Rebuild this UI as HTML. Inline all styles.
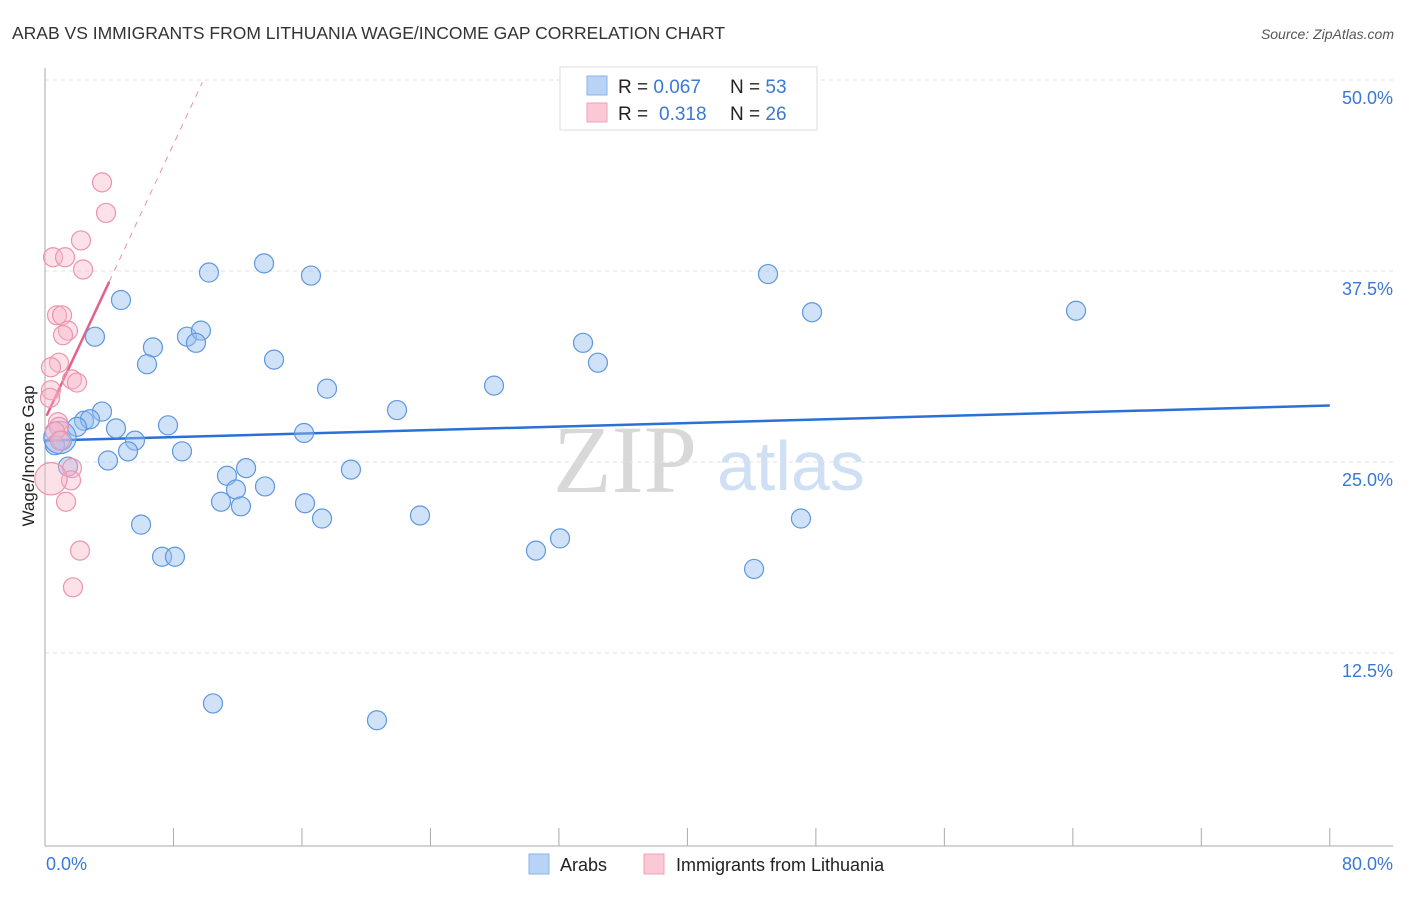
<!DOCTYPE html>
<html><head><meta charset="utf-8"><style>
body{margin:0;background:#fff;font-family:"Liberation Sans",sans-serif}
</style></head><body>
<svg width="1406" height="892" xmlns="http://www.w3.org/2000/svg" style="font-family:'Liberation Sans',sans-serif">
<text x="12" y="39" font-size="17.5" fill="#333">ARAB VS IMMIGRANTS FROM LITHUANIA WAGE/INCOME GAP CORRELATION CHART</text>
<text x="1394" y="39" font-size="14" fill="#555" font-style="italic" text-anchor="end">Source: ZipAtlas.com</text>
<g>
<text x="553" y="492" font-size="96" font-family="'Liberation Serif',serif" fill="#d8d8d8">ZIP</text>
<text x="717" y="490" font-size="70" fill="#cfe0f4">atlas</text>
</g>
<g id="grid"></g>
<line x1="45" y1="68" x2="45" y2="846" stroke="#aaa"/>
<line x1="45" y1="846" x2="1393" y2="846" stroke="#aaa"/>
<g id="xticks"></g>
<g id="trends"></g>
<g id="pts"></g>
<text x="46" y="870" font-size="18" fill="#3a78d8">0.0%</text>
<text x="1393" y="870" font-size="18" fill="#3a78d8" text-anchor="end">80.0%</text>
<text transform="translate(34,456) rotate(-90)" font-size="17" fill="#222" text-anchor="middle">Wage/Income Gap</text>
<g>
<rect x="560" y="67" width="257" height="63" fill="#fff" stroke="#ddd"/>
<rect x="587" y="76" width="20" height="19" fill="#b8d3f5" stroke="#8ab3ea"/>
<rect x="587" y="103" width="20" height="19" fill="#fbc8d6" stroke="#f0a0b8"/>
<text x="618" y="93" font-size="19" fill="#222">R = <tspan fill="#3a78d8">0.067</tspan><tspan x="730">N = </tspan><tspan fill="#3a78d8">53</tspan></text>
<text x="618" y="120" font-size="19" fill="#222">R = <tspan x="659" fill="#3a78d8">0.318</tspan><tspan x="730">N = </tspan><tspan fill="#3a78d8">26</tspan></text>
</g>
<g>
<rect x="529" y="854" width="20" height="20" fill="#b8d3f5" stroke="#8ab3ea"/>
<text x="560" y="871" font-size="18" fill="#222">Arabs</text></g>
<g>
<rect x="644" y="854" width="20" height="20" fill="#fbc8d6" stroke="#f0a0b8"/>
<text x="676" y="871" font-size="18" fill="#222">Immigrants from Lithuania</text></g>
</svg>
<script>
const yTicks=[12.5,25,37.5,50];
const yTickLabels=["12.5%","25.0%","37.5%","50.0%"];
const xTicks=[0,8,16,24,32,40,48,56,64,72,80];
const arabX=[4.73,3.11,6.72,6.35,8.84,9.71,9.40,10.21,13.64,16.56,14.26,17.56,21.92,27.96,33.50,34.43,45.02,47.76,64.20,3.55,2.43,2.80,4.42,5.60,5.17,1.99,1.06,0.62,3.92,1.43,7.66,8.53,11.33,12.52,11.89,13.70,10.96,12.20,16.13,16.19,17.25,19.05,23.35,5.98,7.29,8.09,30.57,32.07,44.15,47.07,10.46,20.67,0.93];
const arabY=[35.6,33.2,32.5,31.4,33.2,33.6,32.8,37.4,38.0,37.2,31.7,29.8,28.4,30.0,32.8,31.5,37.3,34.8,34.9,28.3,27.7,27.8,27.2,26.4,25.7,27.3,26.4,26.1,25.1,24.7,27.4,25.7,24.1,24.6,23.2,23.4,22.4,22.1,26.9,22.3,21.3,24.5,21.5,20.9,18.8,18.8,19.2,20.0,18.0,21.3,9.2,8.1,26.6];
const arabSize=[1,1,1,1,1,1,1,1,1,1,1,1,1,1,1,1,1,1,1,1,1,1,1,1,1,1,1,1,1,1,1,1,1,1,1,1,1,1,1,1,1,1,1,1,1,1,1,1,1,1,1,1,1.7];
const lithX=[3.55,3.80,2.24,0.50,1.25,2.37,0.75,1.06,1.43,1.12,0.87,0.37,1.68,1.99,0.37,0.31,0.81,0.87,1.68,1.62,0.37,1.31,2.18,1.74,0.62,0.93];
const lithY=[43.3,41.3,39.5,38.4,38.4,37.6,34.6,34.6,33.6,33.3,31.5,31.2,30.4,30.2,29.7,29.2,27.6,27.3,24.6,23.8,23.9,22.4,19.2,16.8,27.0,26.4];
const lithSize=[1,1,1,1,1,1,1,1,1,1,1,1,1,1,1,1,1,1,1,1,1.7,1,1,1,1,1];
const arabTrend=[26.4,28.7];
const lithTrend=[27.8,2.25];
const X=v=>45+v*16.06, Y=v=>844-v*15.28;
const NS="http://www.w3.org/2000/svg";
function mk(p,t,a){const e=document.createElementNS(NS,t);for(const k in a)e.setAttribute(k,a[k]);p.appendChild(e);return e;}
const grid=document.getElementById('grid');
yTicks.forEach((t,i)=>{
 const l=mk(grid,'line',{x1:45,x2:1393,y1:Y(t),y2:Y(t),stroke:'#e2e2e2','stroke-dasharray':'4,4'});
 
 
 const tx=mk(grid,'text',{x:1393,y:Y(t)+24,'font-size':18,fill:'#3a78d8','text-anchor':'end'});
 tx.textContent=yTickLabels[i];
 
 
});
const xt=document.getElementById('xticks');
xTicks.forEach(t=>{
 const l=mk(xt,'line',{x1:X(t),x2:X(t),y1:828,y2:846,stroke:'#aaa'});
 
 
});
const pts=document.getElementById('pts');
arabX.forEach((x,i)=>{
 const c=mk(pts,'circle',{cx:X(x),cy:Y(arabY[i]),r:9.5*arabSize[i],fill:'rgba(150,190,240,0.45)',stroke:'#5f97e0','stroke-width':1.2});
 
 
});
lithX.forEach((x,i)=>{
 const c=mk(pts,'circle',{cx:X(x),cy:Y(lithY[i]),r:9.5*lithSize[i],fill:'rgba(248,180,200,0.4)',stroke:'#ec94ae','stroke-width':1.2});
 
 
});
const tr=document.getElementById('trends');
const bl=mk(tr,'line',{x1:X(0),y1:Y(arabTrend[0]),x2:X(80),y2:Y(arabTrend[1]),stroke:'#2a70d6','stroke-width':2.5});


const pl=v=>lithTrend[0]+lithTrend[1]*v;
const ps=mk(tr,'line',{x1:X(0.1),y1:Y(pl(0.1)),x2:X(4),y2:Y(pl(4)),stroke:'#e4608a','stroke-width':2.5});


const pd=mk(tr,'line',{x1:X(4),y1:Y(pl(4)),x2:X(9.8),y2:Y(pl(9.8)),stroke:'#e890aa','stroke-width':1,'stroke-dasharray':'6,6'});


</script>
</body></html>
